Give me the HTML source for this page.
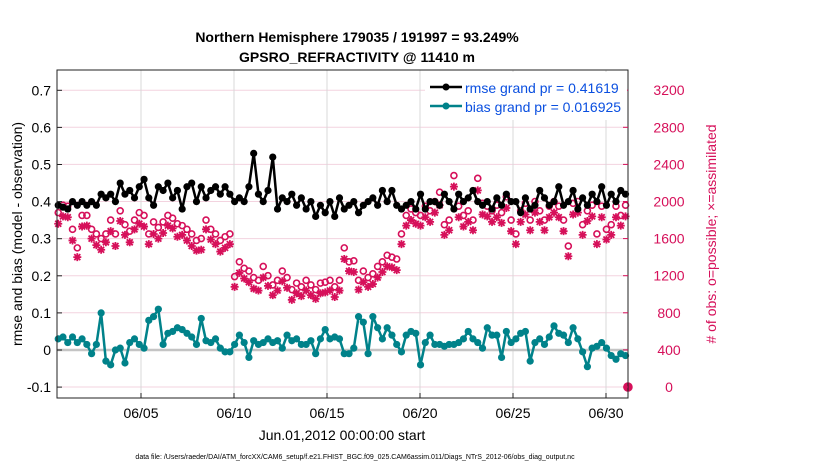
<!DOCTYPE html>
<html><head><meta charset="utf-8"><style>
body{margin:0;background:#fff;}
svg{display:block;font-family:"Liberation Sans",sans-serif;}
</style></head><body>
<svg id="chart" width="830" height="470">
<rect x="0" y="0" width="830" height="470" fill="#fff"/>
<text x="357" y="42" text-anchor="middle" font-size="14" font-weight="bold">Northern Hemisphere 179035 / 191997 = 93.249%</text>
<text x="357" y="62" text-anchor="middle" font-size="14" font-weight="bold">GPSRO_REFRACTIVITY @ 11410 m</text>
<g id="grid"></g>
<g id="marks"></g>
<g id="axes"></g>
<text transform="translate(22,234) rotate(-90)" text-anchor="middle" font-size="14">rmse and bias (model - observation)</text>
<text transform="translate(716,234) rotate(-90)" text-anchor="middle" font-size="14" fill="#d6105a"># of obs: o=possible; ×=assimilated</text>
<text x="342" y="440" text-anchor="middle" font-size="14">Jun.01,2012 00:00:00 start</text>
<text x="355" y="459" text-anchor="middle" font-size="7">data file: /Users/raeder/DAI/ATM_forcXX/CAM6_setup/f.e21.FHIST_BGC.f09_025.CAM6assim.011/Diags_NTrS_2012-06/obs_diag_output.nc</text>
<g>
<rect x="425" y="72" width="202" height="48" fill="#fff" stroke="none"/>
<line x1="430" y1="87" x2="462" y2="87" stroke="#000" stroke-width="2.5"/>
<circle cx="446" cy="87" r="3.5" fill="#000"/>
<text x="465" y="93" font-size="14" fill="#0a4fe0">rmse grand pr = 0.41619</text>
<line x1="430" y1="106" x2="462" y2="106" stroke="#00828a" stroke-width="2.5"/>
<circle cx="446" cy="106" r="3.5" fill="#00828a"/>
<text x="465" y="112" font-size="14" fill="#0a4fe0">bias grand pr = 0.016925</text>
</g>
</svg>
<script>
const rmse=[.39,.385,.38,.40,.39,.40,.39,.40,.39,.42,.41,.42,.40,.45,.42,.43,.41,.44,.46,.41,.39,.44,.43,.45,.41,.43,.38,.44,.45,.40,.44,.41,.43,.44,.42,.44,.42,.40,.41,.40,.44,.53,.42,.40,.43,.52,.38,.41,.40,.42,.39,.41,.38,.40,.36,.39,.37,.40,.36,.41,.38,.39,.40,.37,.39,.40,.41,.39,.43,.40,.43,.39,.38,.39,.40,.38,.42,.38,.40,.40,.39,.42,.40,.38,.42,.40,.41,.43,.40,.39,.40,.38,.41,.39,.42,.40,.40,.37,.41,.38,.39,.43,.41,.39,.40,.44,.39,.40,.43,.38,.41,.39,.42,.40,.44,.39,.42,.40,.43,.42];
const bias=[.03,.035,.02,.035,.02,.03,.015,-.01,.015,.1,-.03,-.04,0,.005,-.035,.02,.03,.015,.005,.08,.09,.11,.015,.045,.05,.06,.055,.045,.035,.015,.085,.025,.02,.03,.005,-.005,-.005,.015,.04,.02,-.02,.025,.015,.02,.03,.02,.025,.005,.04,.025,.03,.015,.015,.025,-.01,.03,.055,.03,.035,.03,-.01,-.01,.005,.09,.075,-.01,.09,.06,.03,.06,.04,.015,-.005,.04,.05,.045,-.04,.02,.04,.015,.015,.01,.015,.015,.02,.03,.05,.03,.02,.005,.06,.04,.04,-.02,.05,.02,.03,.045,.05,-.03,.02,.03,.015,.035,.065,.045,.04,.02,.06,.03,-.005,-.045,.005,.01,.02,.005,-.015,-.025,-.01,-.015];
const possible=[1880,1960,1950,1700,1500,1850,1850,1700,1650,1600,1650,1800,1650,1900,1750,1680,1800,1880,1850,1650,1780,1720,1780,1850,1820,1760,1740,1700,1650,1580,1600,1800,1700,1650,1580,1620,1650,1190,1350,1280,1250,1180,1150,1300,1200,1100,1150,1250,1180,1050,1120,1080,1150,1100,1050,1120,1130,1150,1080,1150,1500,1350,1360,1150,1250,1180,1220,1300,1350,1420,1400,1380,1650,1850,1920,1880,1850,1950,1900,2000,2100,1750,1800,2280,1950,1850,1900,1800,2250,1980,1950,1900,1960,1880,2050,1800,1650,1900,1980,1800,2000,1900,1800,1950,2000,1950,1800,1520,1980,2000,1750,1900,1960,1650,1950,1700,1750,1950,1850,1960,0];
const assimilated=[1760,1840,1830,1580,1400,1730,1740,1600,1530,1480,1560,1680,1520,1790,1640,1560,1700,1760,1730,1540,1650,1600,1660,1740,1710,1620,1640,1580,1520,1470,1480,1700,1590,1540,1460,1500,1540,1080,1230,1170,1130,1060,1040,1180,1090,990,1040,1140,1070,940,1010,980,1040,990,950,1010,1020,1040,970,1040,1380,1250,1240,1050,1130,1080,1110,1180,1240,1300,1290,1260,1540,1740,1800,1760,1740,1830,1780,1880,1960,1640,1690,2160,1830,1730,1780,1690,2120,1860,1840,1780,1830,1770,1930,1680,1540,1780,1860,1690,1880,1780,1690,1830,1880,1830,1680,1410,1860,1880,1640,1790,1840,1540,1830,1590,1640,1830,1740,1840,0];
const xTickLabels=["06/05","06/10","06/15","06/20","06/25","06/30"];
const xTickDays=[5,10,15,20,25,30];
const leftTicks=[-0.1,0,0.1,0.2,0.3,0.4,0.5,0.6,0.7];
const rightTicks=[0,400,800,1200,1600,2000,2400,2800,3200];

const L=57,R=628,T=70,B=398;
const X=d=>66.6+(d-1)*18.6;
const YL=v=>350-v*371;
const YR=v=>387-v*37.1/400;
const tAt=i=>0.55+i*0.2563;
const NS='http://www.w3.org/2000/svg';
function mk(tag,attrs,parent){const e=document.createElementNS(NS,tag);for(const k in attrs)e.setAttribute(k,attrs[k]);parent.appendChild(e);return e;}
const grid=document.getElementById('grid'),marks=document.getElementById('marks'),axes=document.getElementById('axes');
const tObs=i=>i>119?tAt(119)+0.13:tAt(i);

rightTicks.forEach(v=>{const l=mk('line',{x1:L,x2:R,y1:YR(v),y2:YR(v),stroke:'#f3d3df','stroke-width':1},grid);

});
xTickDays.forEach(d=>{const l=mk('line',{x1:X(d),x2:X(d),y1:T,y2:B,stroke:'#d8d8d8','stroke-width':1},grid);

});
const zl=mk('line',{x1:L,x2:R,y1:YL(0),y2:YL(0),stroke:'#c4c4c4','stroke-width':2.5},grid);



possible.forEach((v,i)=>{const c=mk('circle',{cx:X(tObs(i)),cy:YR(v),r:i>119?4:3,fill:i>119?'#d6105a':'none',stroke:'#d6105a','stroke-width':1.6},marks);

});
assimilated.forEach((v,i)=>{const x=X(tObs(i)),y=YR(v);
const g=mk('path',{d:`M${x-4},${y}H${x+4}M${x},${y-4}V${y+4}M${x-3},${y-3}L${x+3},${y+3}M${x-3},${y+3}L${x+3},${y-3}`,stroke:'#d6105a','stroke-width':1.8},marks);

});

function series(vals,color,name){
 const pts=vals.map((v,i)=>X(tAt(i)).toFixed(1)+','+YL(v).toFixed(1)).join(' ');
 const pl=mk('polyline',{points:pts,fill:'none',stroke:color,'stroke-width':2.5,'stroke-linejoin':'round'},marks);
 
 
 vals.forEach((v,i)=>{const c=mk('circle',{cx:X(tAt(i)),cy:YL(v),r:3.6,fill:color},marks);
 
 });
}
series(bias,'#00828a','bias');
series(rmse,'#000','rmse');

const fr=mk('rect',{x:L,y:T,width:R-L,height:B-T,fill:'none',stroke:'#222','stroke-width':1},axes);


leftTicks.forEach(v=>{mk('line',{x1:L,x2:L+5,y1:YL(v),y2:YL(v),stroke:'#222'},axes);
const t=mk('text',{x:L-6,y:YL(v)+5,'text-anchor':'end','font-size':14},axes);t.textContent=(v===0?'0':String(v));

});
rightTicks.forEach(v=>{mk('line',{x1:R-5,x2:R,y1:YR(v),y2:YR(v),stroke:'#d6105a'},axes);
const t=mk('text',{x:669,y:YR(v)+5,'text-anchor':'middle','font-size':14,fill:'#d6105a'},axes);t.textContent=String(v);

});
xTickDays.forEach((d,i)=>{mk('line',{x1:X(d),x2:X(d),y1:B-5,y2:B,stroke:'#222'},axes);
const t=mk('text',{x:X(d),y:B+20,'text-anchor':'middle','font-size':14},axes);t.textContent=xTickLabels[i];

});
</script>
</body></html>
